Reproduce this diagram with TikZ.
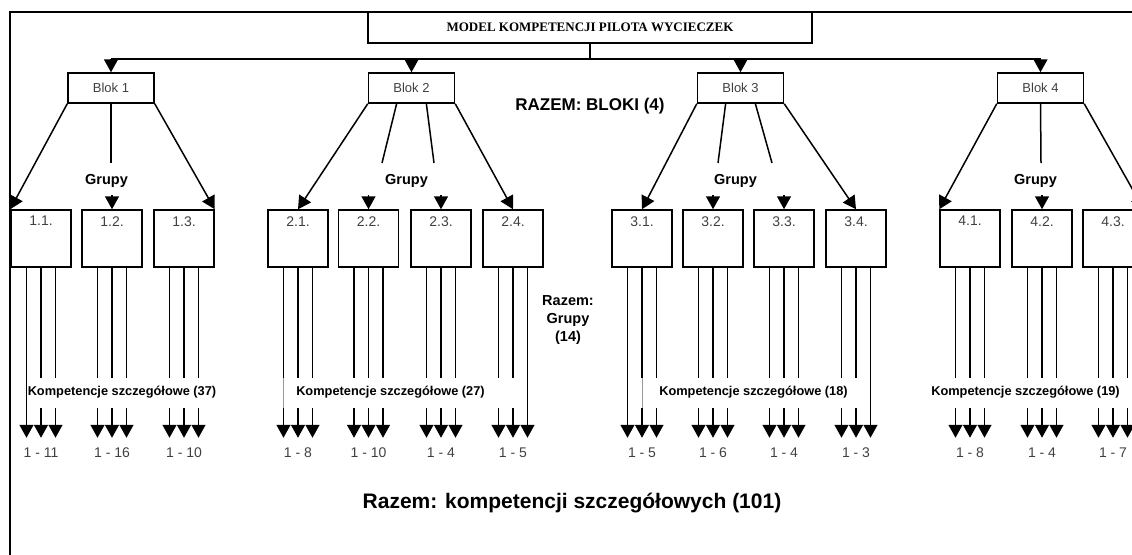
\documentclass[tikz,border=0pt]{standalone}
\usepackage{fontspec}
\setmainfont{Liberation Sans}
\newfontfamily\serifbold{Liberation Serif}
\usetikzlibrary{arrows.meta, calc}

\begin{document}
\begin{tikzpicture}[
        x=1pt, y=-1pt,
        line width=1.5pt,
        titlebox/.style = {draw, minimum width=444pt, minimum height=31pt, inner sep=0pt, font=\serifbold\bfseries\fontsize{13}{15}\selectfont},
        blok/.style     = {draw, minimum width=86pt, minimum height=30pt, inner sep=0pt, text=black!75, font=\fontsize{13}{15}\selectfont},
        grp/.style      = {draw, minimum width=60pt, minimum height=57pt, inner sep=0pt},
        grplbl/.style   = {anchor=north, yshift=-3pt, text=black!75, font=\fontsize{14}{16}\selectfont},
        rng/.style      = {text=black!75, font=\fontsize{14}{16}\selectfont},
        grupy/.style    = {font=\bfseries\fontsize{14.5}{17}\selectfont},
        komp/.style     = {font=\bfseries\fontsize{12.8}{14}\selectfont},
        razem/.style    = {font=\bfseries\fontsize{14.5}{18}\selectfont, align=center},
        total/.style    = {font=\bfseries\fontsize{21}{24}\selectfont},
        arr/.style      = {-{Triangle[length=13pt, width=14pt]}},
    ]
    \useasboundingbox (0,0) rectangle (1132,554);
    \clip (0,0) rectangle (1132,554);

    % frame
    \draw (10,12) rectangle (1250,650);

    \node[titlebox] (tt) at (590,27.5) {MODEL KOMPETENCJI PILOTA WYCIECZEK};

    \node[blok] (b1) at (111,88) {Blok 1};
    \node[blok] (b2) at (411.5,88) {Blok 2};
    \node[blok] (b3) at (740.5,88) {Blok 3};
    \node[blok] (b4) at (1040.5,88) {Blok 4};

    \draw (tt.south) -- ++(0,15) coordinate (hub);
    \draw (hub -| b1.north) -- (hub -| b4.north);
    \foreach \b in {b1,b2,b3,b4}
        \draw[arr] (hub -| \b.north) -- (\b.north);

    \node[razem] (rb) at (590,106) {\fontsize{17}{18}\selectfont RAZEM: BLOKI (4)};

    % groups
    \foreach \n/\x/\t in {11/41/1.1., 12/112/1.2., 13/184/1.3.,
                          21/298/2.1., 22/368.5/2.2., 23/441/2.3., 24/513/2.4.,
                          31/642/3.1., 32/713/3.2., 33/784/3.3., 34/856/3.4.,
                          41/970/4.1., 42/1042/4.2., 43/1113/4.3.}
        \node[grp, label={[grplbl]north:\t}] (g\n) at (\x,238.5) {};

    \node[grupy] (gr1) at (106.5,181) {Grupy};
    \node[grupy] (gr2) at (406.5,181) {Grupy};
    \node[grupy] (gr3) at (735.5,181) {Grupy};
    \node[grupy] (gr4) at (1035.5,181) {Grupy};

    \coordinate (c1) at (111,163);
    \coordinate (c2a) at (382,163);
    \coordinate (c2b) at (434,163);
    \coordinate (c3a) at (718,163);
    \coordinate (c3b) at (772,163);
    \coordinate (c4) at (1041,163);

    % blok 1
    \draw[arr] (b1.south west) -- (g11.north west);
    \draw (b1.south) -- (c1);
    \draw[arr] (b1.south east) -- (g13.north east);
    % blok 2
    \draw[arr] (b2.south west) -- (g21.north);
    \draw ($(b2.south west)!0.33!(b2.south east)$) -- (c2a);
    \draw ($(b2.south west)!0.67!(b2.south east)$) -- (c2b);
    \draw[arr] (b2.south east) -- (g24.north);
    % blok 3
    \draw[arr] (b3.south west) -- (g31.north);
    \draw ($(b3.south west)!0.33!(b3.south east)$) -- (c3a);
    \draw ($(b3.south west)!0.67!(b3.south east)$) -- (c3b);
    \draw[arr] (b3.south east) -- (g34.north);
    % blok 4
    \draw[arr] (b4.south west) -- (g41.north west);
    \draw (b4.south) -- (c4);
    \draw[arr] (b4.south east) -- (g43.north east);

    \foreach \g in {g12,g22,g23,g32,g33,g42}
        \draw[arr] ([yshift=14pt]\g.north) -- (\g.north);

    \node[razem] (rg) at (568,320) {Razem:\\Grupy\\(14)};

    % competences
    \foreach \g in {g11,g12,g13,g21,g22,g23,g24,g31,g32,g33,g34,g41,g42,g43}
        \foreach \dx in {-14.5,0,14.5}
            \draw[arr] ($(\g.south)+(\dx,0)$) -- ++(0,110) ++(0,30) -- ++(0,30);
    \foreach \g/\dx in {g11/-14.5, g24/14.5, g31/-14.5, g34/14.5}
        \draw ($(\g.south)+(\dx,110)$) -- ++(0,30);
    \foreach \g/\dx in {g21/-14.5, g31/0}
        \draw[thin, black!40] ($(\g.south)+(\dx,110)$) -- ++(0,30);

    \node[komp] (k1) at (122,392) {Kompetencje szczegółowe (37)};
    \node[komp] (k2) at (390.5,392) {Kompetencje szczegółowe (27)};
    \node[komp] (k3) at (753.5,392) {Kompetencje szczegółowe (18)};
    \node[komp] (k4) at (1025.5,392) {Kompetencje szczegółowe (19)};

    \foreach \n/\r in {11/1 - 11, 12/1 - 16, 13/1 - 10,
                       21/1 - 8, 22/1 - 10, 23/1 - 4, 24/1 - 5,
                       31/1 - 5, 32/1 - 6, 33/1 - 4, 34/1 - 3,
                       41/1 - 8, 42/1 - 4, 43/1 - 7}
        \node[rng] (r\n) at (g\n.south |- 0,453) {\r};

    \node[total] (tot) at (572,503) {Razem: kompetencji szczegółowych (101)};
\end{tikzpicture}
\end{document}
